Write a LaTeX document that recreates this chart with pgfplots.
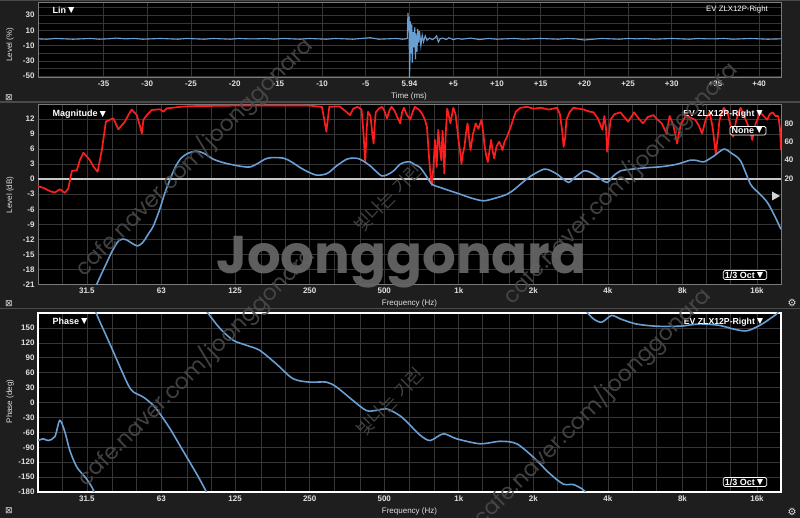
\documentclass[border=0pt]{standalone}
\usepackage{fontspec}
\setmainfont{Liberation Sans}
\newfontfamily\djv{DejaVu Sans}
\newfontfamily\wmfont{Poppins}
\newfontfamily\kr{Noto Sans CJK KR}
\usepackage{pgfplots}
\pgfplotsset{compat=1.18}
\definecolor{bg}{HTML}{1E1E1E}
\definecolor{sepc}{HTML}{4A4A4A}
\definecolor{gridc}{HTML}{363636}
\definecolor{blu}{HTML}{6A9FD4}
\definecolor{redc}{HTML}{FF1E1E}
\definecolor{tk}{HTML}{E0E0E0}
\definecolor{frm}{HTML}{7A7A7A}
\definecolor{wm}{HTML}{646464}
\definecolor{wmb}{HTML}{4C4C4C}
\newcommand{\tri}{\raisebox{-0.2pt}{\fontsize{10.5}{10}\selectfont ▼}}
\pgfplotsset{
  panel/.style={
    scale only axis, width=743pt, anchor=north west,
    axis line style={draw=frm, line width=1pt},
    major tick length=0pt, minor tick length=0pt,
    tick style={draw=none},
    grid style={draw=gridc, line width=0.6pt},
    minor grid style={draw=gridc, line width=0.6pt},
    ticklabel style={font=\bfseries\fontsize{8}{8}\selectfont, text=tk},
    /pgf/number format/assume math mode=true,
    axis background/.style={fill=black},
  },
  freq/.style={
    xmin=20, xmax=20000,
    xtick={31.5,63,125,250,500,1000,2000,4000,8000,16000},
    xticklabels={31.5,63,125,250,500,1k,2k,4k,8k,16k},
    minor xtick={20,25,40,50,80,100,160,200,315,400,630,800,1250,1600,2500,3150,5000,6300,10000,12500,20000},
  },
}
\begin{document}
\begin{tikzpicture}
\fill[bg] (0,0) rectangle (800pt,-518pt);
\fill[sepc] (0,0) rectangle (800pt,-1.5pt);
\fill[sepc] (0,-101.5pt) rectangle (800pt,-103pt);
\fill[sepc] (0,-308pt) rectangle (800pt,-309.5pt);

% ---------------- Panel 1: impulse ----------------
\begin{axis}[panel, at={(38pt,-3pt)}, height=74pt,
  xmin=-42.5, xmax=42.5, ymin=-51, ymax=46,
  xtick={-35,-30,...,40},
  xticklabels={-35,-30,-25,-20,-15,-10,-5,5.94,+5,+10,+15,+20,+25,+30,+35,+40},
  ytick={-50,-30,-10,10,30}, minor ytick={-40,-20,0,20,40},
  grid=both]
\addplot[blu, line width=1.1pt] coordinates {
(-42.5,-1) (-41.5,-1.5) (-40.5,-0.5) (-39.5,-1) (-38.5,-1.5) (-37.5,-1) (-36.5,-0.5) (-35.5,-1.5)
(-34.5,-1) (-33.5,0) (-32.5,-1) (-31.5,-0.5) (-30.5,-1.5) (-29.5,-1) (-28.5,-0.5) (-27.5,-1)
(-26.5,-1.5) (-25.5,-0.5) (-24.5,-1) (-23.5,-1.5) (-22.5,-0.5) (-21.5,-1) (-20.5,-1.5) (-19.5,-0.5)
(-18.5,-1) (-17.5,-1) (-16.5,-0.5) (-15.5,-1.5) (-14.5,-0.5) (-13.5,-1) (-12.5,-1.5) (-11.5,-0.5)
(-10.5,-1) (-9.5,-1.5) (-8.5,-0.5) (-7.5,-1) (-6.5,-1.5) (-5.5,-0.5) (-4.5,0.5) (-3.5,-1.5)
(-2.5,-1) (-1.5,-0.5) (-0.8,-1.5) (-0.4,-1) (-0.25,0) (-0.18,33) (-0.1,10) (-0.05,28) (0,-52)
(0.05,-30) (0.1,22) (0.18,-20) (0.25,18) (0.32,-32) (0.4,8) (0.5,-12) (0.6,14) (0.68,-28)
(0.75,6) (0.85,-18) (0.95,12) (1.05,-6) (1.15,9) (1.3,-10) (1.45,4) (1.6,-5) (1.8,3) (2.0,-3)
(2.3,0) (2.6,-2) (2.9,0) (3.1,3) (3.3,-5) (3.5,-1) (3.8,0) (4.2,-2) (4.5,0.5) (5,-2) (5.5,-0.5)
(6,-1.5) (7,0) (8,-2) (9,-0.5) (10,-1.5) (11,-1) (12,-0.5) (13,-1.5) (14,-1) (15,-0.5) (16,-1)
(17,-1.5) (18,-0.5) (19,-1) (20,-2.5) (21,-1.5) (22,-0.5) (23,-1) (24,-1.5) (25,-0.5) (26,-1)
(27,-0.5) (28,-1.5) (29,-1) (30,-0.5) (31,-1) (32,-1.5) (33,-0.5) (34,-1) (35,-1) (36,-0.5)
(37,-1.5) (38,-1) (39,-0.5) (40,-1) (41,-1.5) (42.5,-1)};
\end{axis}

% ---------------- Panel 2: magnitude ----------------
\begin{axis}[xmode=log, panel, freq, at={(38pt,-105pt)}, height=179.5pt,
  ymin=-21, ymax=14.8, ytick={-21,-18,...,12}, grid=both]
\addplot[color={rgb,255:red,200;green,200;blue,200}, line width=1.6pt] coordinates {(20,0) (20000,0)};
\end{axis}
\begin{axis}[xmode=log, scale only axis, width=743pt, height=179.5pt, anchor=north west, at={(38pt,-105pt)},
  xmin=20, xmax=20000, ymin=-95.2, ymax=100,
  hide x axis, axis y line*=right, y axis line style={draw=none},
  ytick={20,40,60,80}, major tick length=0pt, tick style={draw=none},
  yticklabel style={font=\bfseries\fontsize{8}{8}\selectfont, text=tk},
  /pgf/number format/assume math mode=true, clip=true]
\addplot[redc, line width=1.7pt, line join=round] coordinates {
(20,11.7) (21,10) (21.7,8) (22.5,6) (23.4,4.8) (24.5,8.4) (25.7,4.4) (26.5,9.2) (27.4,28.4) (28.7,29)
(29.5,40) (30.5,48) (31.5,44) (32.4,40) (33.5,33) (34.8,27.3) (36.2,51) (37.6,82) (39,84) (40.3,85.5)
(42.2,73.5) (44.9,82) (46.5,90) (47.8,95) (50.1,89) (51.5,78) (52.5,69) (53.3,84) (55,89) (57.6,94.6)
(60,95) (62.2,95.3) (64.2,92.7) (66.2,96.4) (70,97) (75,98) (80,98.5) (90,99) (100,99) (120,99.3)
(150,99.5) (200,99.5) (250,99.3) (280,98) (286,85) (292,71) (296,85) (300,98) (330,98.5) (350,93)
(364,89) (375,96) (390,98) (405,95) (412,70) (419,38) (425,75) (430,92.7) (440,88) (447,70) (453,58)
(458,80) (462,92) (475,96) (490,98) (500,94) (513,85.5) (525,94) (535,98) (550,94) (562,88) (571,84)
(580,80) (590,92) (600,97) (615,90) (637,84) (650,92) (665,98) (690,95) (710,91) (730,84) (744,76)
(755,51) (765,30) (772,20) (779,12.8) (790,32.7) (802,62) (814,32.7) (826,73) (838,55) (850,40)
(860,72) (868,50) (874,25.5) (886,70) (898,96) (912,88) (925,80) (950,97) (970,90) (985,75) (997,62)
(1012,50) (1025,36) (1040,48) (1054,54.5) (1070,70) (1085,80) (1100,65) (1115,51) (1140,68) (1170,80)
(1200,74) (1234,84) (1255,70) (1270,56.4) (1290,45) (1310,38) (1330,50) (1350,62) (1370,50) (1390,42)
(1420,55) (1455,60) (1480,56) (1500,51) (1530,60) (1566,65.5) (1620,76) (1660,85) (1700,92.7)
(1773,97) (1890,98) (2000,96) (2150,97) (2300,95) (2494,97) (2560,90) (2620,70) (2650,54.5) (2690,65)
(2720,84) (2800,92) (2900,97) (3050,96) (3200,95) (3350,93) (3500,92) (3650,85) (3800,73) (3870,88)
(3930,75) (3973,49) (4030,65) (4100,84) (4250,90) (4495,92) (4650,87) (4830,82) (5000,88) (5100,92)
(5300,86) (5540,80) (5800,87) (6100,89) (6350,84) (6600,80) (6900,69) (7100,88) (7350,78) (7618,58)
(7750,70) (7900,80) (8300,89) (8650,86) (9000,84) (9300,78) (9600,69) (9950,85) (10300,92) (10600,75)
(10900,47) (11100,65) (11300,84) (11750,97) (12200,90) (12800,65.5) (13200,84) (13730,97) (14100,90)
(14600,80) (15000,72) (15300,62) (15800,80) (16500,92) (17000,88) (17600,84) (18000,90) (18500,92)
(19000,88) (19500,88) (19800,75) (20000,51)};
\end{axis}
\begin{axis}[xmode=log, scale only axis, width=743pt, height=179.5pt, anchor=north west, at={(38pt,-105pt)},
  xmin=20, xmax=20000, ymin=-21, ymax=14.8, hide axis, clip=true]
\addplot[blu, line width=1.6pt, smooth] coordinates {
(33,-23.5) (34.5,-21) (38,-16.5) (40,-14.2) (42.5,-12.2) (45,-12.0) (48,-12.8) (50.5,-13.3) (53,-12.6)
(56,-10.8) (58.5,-9.3) (62,-6) (65,-2.8) (68.3,0) (72,2.6) (76,4.3) (81,5.2) (87.5,5.6) (94,5.1)
(102,4.0) (112,3.3) (123,2.85) (135,2.5) (144,2.45) (155,3.2) (165,4.0) (175,4.3) (196,4.2) (212,3.4)
(229,2.3) (250,1.3) (267,0.8) (283,0.9) (298,1.3) (320,2.6) (353,4.0) (375,4.2) (394,4.1) (415,3.5)
(439,2.65) (465,1.5) (489,0.65) (515,0.9) (545,1.65) (580,3.0) (610,3.4) (637,3.45) (665,2.9)
(699,2.3) (740,0.6) (779,-1.0) (842,-1.65) (920,-2.3) (1014,-3.0) (1130,-3.8) (1260,-4.3) (1400,-3.8)
(1566,-3.0) (1680,-2.0) (1773,-1.0) (1950,0.6) (2203,2.0) (2350,1.7) (2494,1.0) (2650,0.0)
(2779,-0.65) (2950,0.4) (3195,1.65) (3350,1.5) (3507,1.0) (3750,0.0) (3973,-0.65) (4200,0.6)
(4495,1.65) (5000,2.0) (5763,2.3) (6600,2.5) (7618,3.0) (8622,3.8) (9200,3.7) (9756,3.45) (10700,4.6)
(11750,6.0) (12600,5.2) (13730,3.65) (15070,-1.0) (16300,-2.8) (17600,-4.6) (18800,-7.2) (20000,-10)};
\end{axis}

% ---------------- Panel 3: phase ----------------
\begin{axis}[xmode=log, panel, freq, at={(38pt,-313pt)}, height=179pt,
  axis line style={draw=white, line width=1.3pt},
  ymin=-180, ymax=180, ytick={-180,-150,...,150}, grid=both]
\addplot[blu, line width=1.6pt, smooth] coordinates {
(20,-76.5) (21,-73) (22,-76.5) (23.4,-68.5) (24.5,-36) (25.7,-60) (26.9,-97) (28.7,-130) (31,-150)
(33,-170) (33.8,-182)};
\addplot[blu, line width=1.6pt, smooth] coordinates {
(34.2,182) (35.5,163) (39,118) (42.9,71) (46.4,34) (48.6,21) (53.3,10.7) (58.5,-6) (62.2,-23)
(68.3,-53) (77,-97) (87.5,-144) (94.4,-174) (96,-182)};
\addplot[blu, line width=1.6pt, smooth] coordinates {
(96.5,182) (97.5,178.5) (109,148) (123,125) (139,115) (157,105) (183,78) (214,48) (250,41) (292,41)
(321,31) (374,4) (423,-16) (464,-16) (513,-13) (580,-27) (637,-46) (699,-66) (767,-76.5) (866,-63)
(980,-73) (1220,-83) (1470,-78) (1712,-83) (2000,-110) (2330,-143) (2640,-164) (2900,-165)
(3150,-174) (3280,-182)};
\addplot[blu, line width=1.6pt, smooth] coordinates {
(3290,182) (3500,168) (3780,161.6) (4140,175) (4495,168) (5200,158) (6260,153.5) (7800,153.5)
(9400,158) (11300,155) (12800,148) (14500,144) (16400,155) (18000,168) (19200,178) (19500,182)};
\end{axis}

% ---------------- texts ----------------
\begin{scope}[every node/.style={inner sep=0pt, text=white}]
\node[anchor=west, font=\bfseries\fontsize{9}{10}\selectfont] at (52.5pt,-10.5pt) {Lin\tri};
\node[anchor=east, font=\fontsize{7.8}{9}\selectfont] at (768pt,-9.5pt) {EV ZLX12P-Right};
\node[anchor=west, font=\bfseries\fontsize{9}{10}\selectfont] at (52.5pt,-114.5pt) {Magnitude\tri};
\node[anchor=east, font=\bfseries\fontsize{8.7}{10}\selectfont] at (765pt,-114pt) {EV ZLX12P-Right\tri};
\node[anchor=west, font=\bfseries\fontsize{9}{10}\selectfont] at (52.5pt,-321.5pt) {Phase\tri};
\node[anchor=east, font=\bfseries\fontsize{8.7}{10}\selectfont] at (765.5pt,-322.5pt) {EV ZLX12P-Right\tri};
\node[draw=white, fill=black, rounded corners=1.5pt, line width=0.8pt, inner xsep=1.5pt, inner ysep=1pt,
  font=\bfseries\fontsize{9}{9}\selectfont] at (748pt,-130.7pt) {None\tri};
\node[draw=white, fill=black, rounded corners=1.5pt, line width=0.8pt, inner xsep=1.5pt, inner ysep=1pt,
  font=\bfseries\fontsize{9}{9}\selectfont] at (745pt,-275pt) {1/3 Oct\tri};
\node[draw=white, fill=black, rounded corners=1.5pt, line width=0.8pt, inner xsep=1.5pt, inner ysep=1pt,
  font=\bfseries\fontsize{9}{9}\selectfont] at (745pt,-482pt) {1/3 Oct\tri};
\node[text=tk, font=\fontsize{8}{9}\selectfont] at (409pt,-96.7pt) {Time (ms)};
\node[text=tk, font=\fontsize{8}{9}\selectfont] at (409.5pt,-303.3pt) {Frequency (Hz)};
\node[text=tk, font=\fontsize{8}{9}\selectfont] at (409.5pt,-511.7pt) {Frequency (Hz)};
\node[text=tk, rotate=90, font=\fontsize{8}{9}\selectfont] at (10pt,-45pt) {Level (\%)};
\node[text=tk, rotate=90, font=\fontsize{8}{9}\selectfont] at (10pt,-195pt) {Level (dB)};
\node[text=tk, rotate=90, font=\fontsize{8}{9}\selectfont] at (10pt,-401.5pt) {Phase (deg)};
\node[text=tk, font=\djv\fontsize{9}{9}\selectfont] at (9pt,-97.5pt) {⊠};
\node[text=tk, font=\djv\fontsize{9}{9}\selectfont] at (9pt,-304pt) {⊠};
\node[text=tk, font=\djv\fontsize{9}{9}\selectfont] at (9pt,-511pt) {⊠};
\node[text=tk, font=\djv\fontsize{10}{10}\selectfont] at (792pt,-303pt) {⚙};
\node[text=tk, font=\djv\fontsize{10}{10}\selectfont] at (792pt,-512pt) {⚙};
\end{scope}
\fill[color={rgb,255:red,210;green,210;blue,210}] (772pt,-191.5pt) -- (780pt,-196pt) -- (772pt,-200.5pt) -- cycle;

% ---------------- watermarks ----------------
\begin{scope}[every node/.style={inner sep=0pt}]
\node[text=wmb, opacity=0.85, rotate=45, font=\wmfont\fontsize{22}{22}\selectfont] at (194pt,-157pt) {cafe.naver.com/joonggonara};
\node[text=wmb, opacity=0.85, rotate=45, font=\wmfont\fontsize{22}{22}\selectfont] at (196pt,-367pt) {cafe.naver.com/joonggonara};
\node[text=wmb, opacity=0.85, rotate=46, font=\wmfont\fontsize{22}{22}\selectfont] at (620pt,-183pt) {cafe.naver.com/joonggonara};
\node[text=wmb, opacity=0.85, rotate=45, font=\wmfont\fontsize{22}{22}\selectfont] at (592pt,-407pt) {cafe.naver.com/joonggonara};
\node[text=wmb, opacity=0.85, rotate=45, font=\kr\fontsize{18}{18}\selectfont] at (388pt,-198pt) {빛나는 기린};
\node[text=wmb, opacity=0.85, rotate=45, font=\kr\fontsize{18}{18}\selectfont] at (390pt,-402pt) {빛나는 기린};
\node[text=wm, opacity=0.95, anchor=base, font=\wmfont\bfseries\fontsize{53}{53}\selectfont] at (401.5pt,-274pt) {Joonggonara};
\end{scope}
\pgfresetboundingbox
\path (0,0) rectangle (800pt,-518pt);
\end{tikzpicture}
\end{document}
